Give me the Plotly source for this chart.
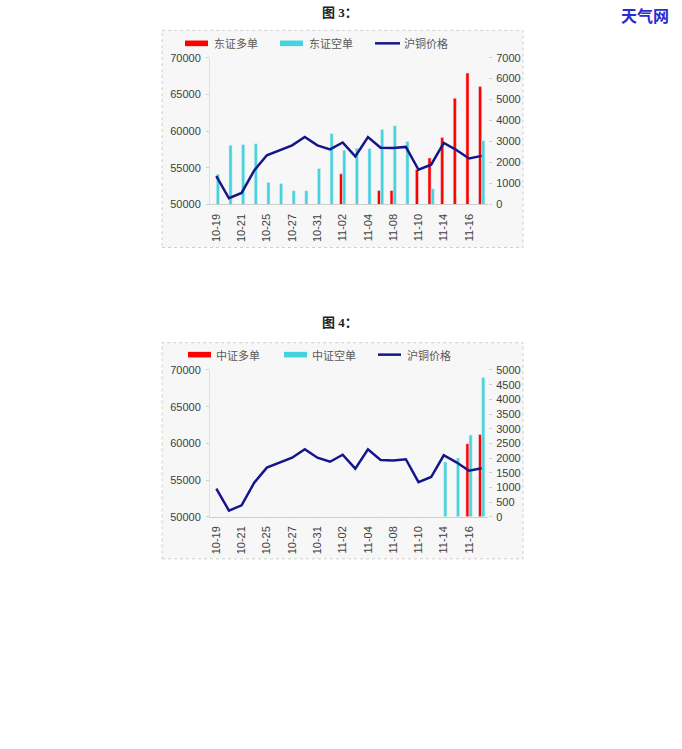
import plotly.graph_objects as go

W, H = 682, 749

dates = ["10-19", "10-20", "10-21", "10-24", "10-25", "10-26", "10-27", "10-28",
         "10-31", "11-01", "11-02", "11-03", "11-04", "11-07", "11-08", "11-09",
         "11-10", "11-11", "11-14", "11-15", "11-16", "11-17"]
tick_labels = ["10-19", "10-21", "10-25", "10-27", "10-31", "11-02", "11-04",
               "11-08", "11-10", "11-14", "11-16"]

# 沪铜价格 (left axis)
price = [53850, 50850, 51570, 54650, 56700, 57350, 58050, 59200, 58050, 57500, 58450,
         56550, 59180, 57730, 57680, 57840, 54730, 55420, 58380, 57420, 56270, 56620]

# 图3: 东证
dz_long = [0, 0, 0, 0, 0, 0, 0, 0, 0, 0, 1460, 0, 0, 670, 670, 0,
           1670, 2220, 3190, 5065, 6265, 5630]
dz_short = [1440, 2820, 2860, 2890, 1050, 1000, 660, 660, 1720, 3380, 2580, 2680,
            2670, 3580, 3750, 3006, 0, 750, 0, 0, 0, 3050]

# 图4: 中证
zz_long = [0] * 20 + [2490, 2800]
zz_short = [0] * 18 + [1870, 2000, 2785, 4740]

RED = "#ff0000"
CYAN = "#45d3de"
NAVY = "#15158a"
TXT = "#404040"
NUMFONT = "Liberation Sans, Arial, sans-serif"
CJK = "Noto Sans CJK SC"


def px_x(x):
    return x / W


def px_y(y):
    # page-pixel -> paper fraction (small empirical correction for the capture)
    return 1 - ((y - 5.7) / 0.983) / H


fig = go.Figure()

fig.add_trace(go.Bar(x=dates, y=dz_long, name="东证多单", marker_color=RED,
                     xaxis="x", yaxis="y", offsetgroup="a", showlegend=False))
fig.add_trace(go.Bar(x=dates, y=dz_short, name="东证空单", marker_color=CYAN,
                     xaxis="x", yaxis="y", offsetgroup="b", showlegend=False))
fig.add_trace(go.Scatter(x=dates, y=price, name="沪铜价格", mode="lines",
                         line=dict(color=NAVY, width=2.5), xaxis="x", yaxis="y2",
                         showlegend=False))

fig.add_trace(go.Bar(x=dates, y=zz_long, name="中证多单", marker_color=RED,
                     xaxis="x2", yaxis="y3", offsetgroup="a", showlegend=False))
fig.add_trace(go.Bar(x=dates, y=zz_short, name="中证空单", marker_color=CYAN,
                     xaxis="x2", yaxis="y3", offsetgroup="b", showlegend=False))
fig.add_trace(go.Scatter(x=dates, y=price, name="沪铜价格", mode="lines",
                         line=dict(color=NAVY, width=2.5), xaxis="x2", yaxis="y4",
                         showlegend=False))

xdom = [px_x(210), px_x(488)]
y3dom = [px_y(204), px_y(57.3)]
y4dom = [px_y(516), px_y(369.3)]

tickfont = dict(family=NUMFONT, size=11, color=TXT)
common_x = dict(type="category", categoryorder="array", categoryarray=dates,
                range=[-0.5, len(dates) - 0.5], tickmode="array", tickvals=tick_labels,
                ticktext=tick_labels, tickangle=-90, tickfont=tickfont,
                ticklabelstandoff=4,
                showgrid=False, zeroline=False, showline=True, linecolor="#d0d0d0",
                linewidth=1, ticks="", domain=xdom)
ax_right = dict(side="right", showgrid=False, zeroline=False, tickfont=tickfont,
                showline=False, ticks="outside", ticklen=3, tickcolor="#d0d0d0",
                ticklabelstandoff=2)
ax_left = dict(side="left", showgrid=False, zeroline=False,
               tickfont=tickfont, showline=True, linecolor="#e0e0e0",
               ticks="outside", ticklen=3, tickcolor="#d0d0d0", ticklabelstandoff=3,
               range=[50000, 70000], dtick=5000, tickformat="d")

fig.update_layout(
    width=W, height=H, margin=dict(l=0, r=0, t=0, b=0),
    paper_bgcolor="white", plot_bgcolor="rgba(0,0,0,0)",
    barmode="group", bargap=0.5, bargroupgap=0.0,
    showlegend=False, hovermode=False,
    xaxis=dict(common_x, anchor="y"),
    yaxis=dict(ax_right, domain=y3dom, anchor="x", range=[0, 7000], dtick=1000),
    yaxis2=dict(ax_left, overlaying="y", anchor="x"),
    xaxis2=dict(common_x, anchor="y3"),
    yaxis3=dict(ax_right, domain=y4dom, anchor="x2", range=[0, 5000], dtick=500),
    yaxis4=dict(ax_left, overlaying="y3", anchor="x2"),
)

shapes = []
annotations = []

for top, bot in [(30, 247), (342, 558)]:
    shapes.append(dict(type="rect", xref="paper", yref="paper", layer="below",
                       x0=px_x(162), x1=px_x(523), y0=px_y(bot), y1=px_y(top),
                       fillcolor="#f7f7f7", line=dict(color="#cfcfcf", width=1, dash="dot")))

for txt, y in [("图 3：", 12), ("图 4：", 322)]:
    annotations.append(dict(text="<b>" + txt + "</b>", x=px_x(340), y=px_y(y),
                            xref="paper", yref="paper", showarrow=False,
                            xanchor="center", yanchor="middle",
                            font=dict(family="Liberation Serif, " + CJK, size=13, color="#222")))

legends = [
    (43, [("东证多单", RED, 185, 208, 212, "bar"), ("东证空单", CYAN, 280, 303, 307, "bar"),
          ("沪铜价格", NAVY, 375, 400, 402, "line")]),
    (354, [("中证多单", RED, 188, 211, 214, "bar"), ("中证空单", CYAN, 284, 307, 310, "bar"),
           ("沪铜价格", NAVY, 378, 401, 405, "line")]),
]
for y, items in legends:
    for name, col, x0, x1, tx, kind in items:
        if kind == "bar":
            shapes.append(dict(type="rect", xref="paper", yref="paper",
                               x0=px_x(x0), x1=px_x(x1), y0=px_y(y + 2.8), y1=px_y(y - 2.8),
                               fillcolor=col, line=dict(width=0)))
        else:
            shapes.append(dict(type="line", xref="paper", yref="paper",
                               x0=px_x(x0), x1=px_x(x1), y0=px_y(y), y1=px_y(y),
                               line=dict(color=col, width=2.5)))
        annotations.append(dict(text=name, x=px_x(tx), y=px_y(y), xref="paper", yref="paper",
                                showarrow=False, xanchor="left", yanchor="middle",
                                font=dict(family=CJK, size=11, color="#595959")))

annotations.append(dict(text="<b>天气网</b>", x=px_x(645), y=px_y(15), xref="paper",
                        yref="paper", showarrow=False, xanchor="center", yanchor="middle",
                        font=dict(family=CJK, size=16, color="#2b2bd6")))

fig.update_layout(shapes=shapes, annotations=annotations)

fig.write_html("out.html",
               config={"displayModeBar": False, "staticPlot": True},
               post_script="var d=document.getElementById('{plot_id}');"
                           "d.style.position='fixed';d.style.top='0px';d.style.left='0px';"
                           "document.body.style.margin='0';"
                           "document.body.style.overflow='hidden';"
                           "document.documentElement.style.overflow='hidden';")
